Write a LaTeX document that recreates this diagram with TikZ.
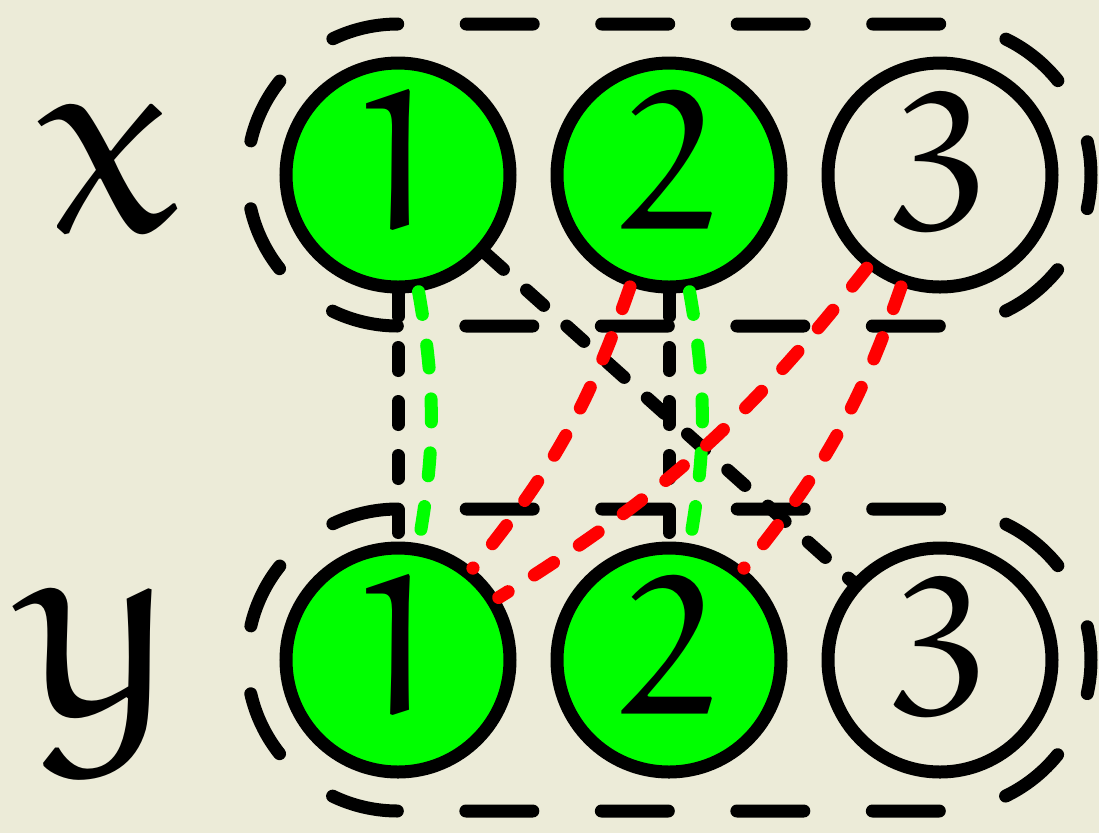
\documentclass[tikz,border=0pt]{standalone}
\usetikzlibrary{calc}
\DeclareFontFamily{U}{eur}{\skewchar\font'177}
\DeclareFontShape{U}{eur}{m}{n}{<-> eurm10}{}
\newcommand{\eulerfont}{\usefont{U}{eur}{m}{n}}
\definecolor{paper}{RGB}{236,235,216}
\begin{document}
\begin{tikzpicture}[
    vertex/.style={circle, draw, line width=0.13cm, minimum size=2.24cm, inner sep=0pt, text depth=0.27cm, font=\fontsize{56}{56}\eulerfont},
    picked/.style={vertex, fill=green},
    group/.style={line width=0.13cm, line cap=round, dash pattern=on 0.67cm off 0.685cm, dash phase=0.335cm},
    link/.style={line width=0.13cm, line cap=round, dash pattern=on 0.23cm off 0.31cm},
    varname/.style={font=\fontsize{78}{78}\eulerfont}
]
        % Paper background
        \fill[paper] (0,0) rectangle (10.99,-8.33);
        \useasboundingbox (0,0) rectangle (10.99,-8.33);

        % Variable names
        \node[varname] (xname) at (1.10,-1.685) {x};
        \node[varname] (yname) at (0.99,-6.795) {y};

        % Top row
        \node[picked] (x1) at (3.98,-1.75) {1};
        \node[picked] (x2) at (6.69,-1.75) {2};
        \node[vertex] (x3) at (9.40,-1.75) {3};

        % Bottom row
        \node[picked] (y1) at (3.98,-6.60) {1};
        \node[picked] (y2) at (6.69,-6.60) {2};
        \node[vertex] (y3) at (9.40,-6.60) {3};

        % Dashed groups around each row (r = 1.51)
        \foreach \a/\b in {x1/x3, y1/y3} {
            \draw[group] ($(\b)+(1.51,0)$) arc[start angle=0, end angle=90, radius=1.51]
                -- ($(\a)+(0,1.51)$) arc[start angle=90, end angle=270, radius=1.51]
                -- ($(\b)+(0,-1.51)$) arc[start angle=270, end angle=360, radius=1.51];
        }

        % Black links
        \draw[link] (x1) -- (y1);
        \draw[link] (x2) -- (y2);
        \draw[link] (x1) -- (y3);

        % Green links, slightly bent
        \draw[link, green] (x1) to[bend left=10] (y1);
        \draw[link, green] (x2) to[bend left=10] (y2);

        % Red links
        \draw[link, red] (x2) to[bend left=10] (y1);
        \draw[link, red] (x3) to[bend left=10] (y1);
        \draw[link, red] (x3) to[bend left=10] (y2);

\end{tikzpicture}
\end{document}
